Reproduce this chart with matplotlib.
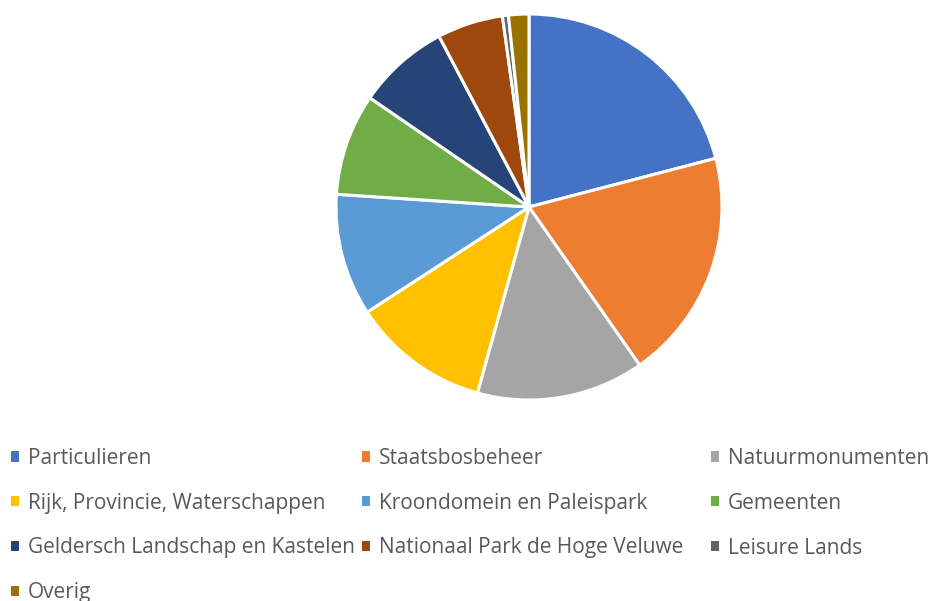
import matplotlib
matplotlib.use("Agg")
import matplotlib.pyplot as plt

# eigenaren en aandelen (procenten)
labels = ["Particulieren", "Staatsbosbeheer", "Natuurmonumenten",
          "Rijk, Provincie, Waterschappen", "Kroondomein en Paleispark",
          "Gemeenten", "Geldersch Landschap en Kastelen",
          "Nationaal Park de Hoge Veluwe", "Leisure Lands", "Overig"]
aandeel = [20.9, 19.3, 14.0, 11.5, 10.2, 8.5, 7.7, 5.5, 0.5, 1.7]
kleuren = ["#4472C4", "#ED7D31", "#A5A5A5", "#FFC000", "#5B9BD5",
           "#70AD47", "#264478", "#9E480E", "#636363", "#997300"]

W, H = 934, 601
fig = plt.figure(figsize=(W / 100, H / 100), dpi=100)

# taart: middelpunt (529, 207), straal 193 pixels
cx, cy, r = 529, 207, 193
ax = fig.add_axes([(cx - r) / W, (H - cy - r) / H, 2 * r / W, 2 * r / H])
wedges, _ = ax.pie(aandeel, colors=kleuren, startangle=90, counterclock=False,
                   wedgeprops=dict(edgecolor="white", linewidth=2.2))
ax.set_xlim(-1, 1)
ax.set_ylim(-1, 1)
ax.set_aspect("equal")

# legenda: drie kolommen, rij voor rij gevuld
kolom_x = [11, 362, 711]
for k in range(3):
    idx = list(range(k, len(labels), 3))
    leg = fig.legend([wedges[i] for i in idx], [labels[i] for i in idx],
                     loc="upper left", bbox_to_anchor=(kolom_x[k] / W, 1 - 448 / H),
                     frameon=False, prop={"family": "Open Sans", "size": 15},
                     handlelength=0.39, handleheight=0.39, handletextpad=0.42,
                     labelspacing=1.14, borderaxespad=0.0, borderpad=0.0)
    for t in leg.get_texts():
        t.set_color("#595959")
    for h in leg.legend_handles:
        h.set_edgecolor("none")

fig.savefig("out.png", dpi=100)
